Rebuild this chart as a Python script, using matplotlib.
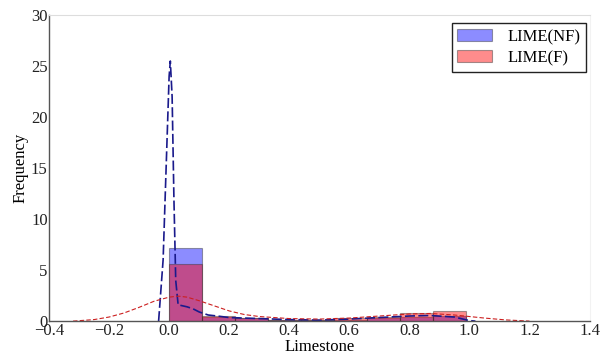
import matplotlib
matplotlib.use("Agg")
import matplotlib.pyplot as plt
import numpy as np

plt.rcParams['font.family'] = ['Liberation Serif', 'DejaVu Serif']

# Histogram bins (width 0.11 from 0.0 to 0.99)
bin_edges = [0.0, 0.11, 0.22, 0.33, 0.44, 0.55, 0.66, 0.77, 0.88, 0.99]
freq_nf = [7.2, 0.45, 0.3, 0.15, 0.1, 0.15, 0.3, 0.4, 0.55]
freq_f = [5.6, 0.5, 0.3, 0.15, 0.15, 0.3, 0.45, 0.8, 1.0]

# Density curves
kde_nf_x = [-0.035, -0.02, -0.01, 0.0, 0.004, 0.01, 0.016, 0.022, 0.03, 0.06,
            0.08, 0.1, 0.13, 0.16, 0.2, 0.3, 0.4, 0.5, 0.6, 0.7, 0.8, 0.87,
            0.95, 1.0, 1.02]
kde_nf_y = [0.0, 6.0, 15.0, 24.0, 25.5, 22.0, 12.0, 4.0, 1.6, 1.4,
            1.2, 0.9, 0.6, 0.5, 0.35, 0.25, 0.15, 0.1, 0.2, 0.35, 0.5, 0.55,
            0.4, 0.05, 0.0]
kde_f_x = [-0.32, -0.25, -0.2, -0.15, -0.1, -0.05, 0.0, 0.03, 0.06, 0.1,
           0.15, 0.2, 0.25, 0.3, 0.4, 0.5, 0.6, 0.7, 0.8, 0.87, 0.95,
           1.05, 1.12, 1.2]
kde_f_y = [0.0, 0.15, 0.4, 0.8, 1.35, 1.95, 2.35, 2.45, 2.35, 2.0,
           1.5, 1.0, 0.65, 0.45, 0.25, 0.2, 0.3, 0.5, 0.7, 0.75, 0.6,
           0.3, 0.12, 0.0]

fig = plt.figure(figsize=(6.08, 3.6), dpi=100)
ax = fig.add_axes([0.0806, 0.108, 0.889, 0.85])

widths = np.diff(bin_edges)
lefts = np.array(bin_edges[:-1])
ax.bar(lefts, freq_nf, width=widths, align='edge', color='#0000ff', alpha=0.45,
       edgecolor='#333333', linewidth=0.8, label='LIME(NF)')
ax.bar(lefts, freq_f, width=widths, align='edge', color='#ff0000', alpha=0.45,
       edgecolor='#333333', linewidth=0.8, label='LIME(F)')

ax.plot(kde_nf_x, kde_nf_y, color='#1a1a8c', linestyle=(0, (6, 2)), linewidth=1.2)
ax.plot(kde_f_x, kde_f_y, color='#cc2020', linestyle=(0, (4, 2)), linewidth=0.8)

ax.set_xlim(-0.4, 1.4)
ax.set_ylim(0, 30)
ax.set_xticks([-0.4, -0.2, 0.0, 0.2, 0.4, 0.6, 0.8, 1.0, 1.2, 1.4])
ax.set_yticks([0, 5, 10, 15, 20, 25, 30])
ax.tick_params(axis='both', length=0, labelsize=12, pad=1, colors='#222222')
ax.set_xlabel('Limestone', fontsize=12, labelpad=0)
ax.set_ylabel('Frequency', fontsize=12, labelpad=2)

for s in ['left', 'bottom']:
    ax.spines[s].set_color('#555555')
    ax.spines[s].set_linewidth(1.0)
ax.spines['top'].set_color('#dddddd')
ax.spines['right'].set_color('#f2f2f2')

leg = ax.legend(loc='upper right', fontsize=12, fancybox=False, framealpha=1,
                edgecolor='#222222', handlelength=2.1, handleheight=0.75,
                borderpad=0.35, labelspacing=0.3, handletextpad=0.9,
                borderaxespad=0, bbox_to_anchor=(0.994, 0.974))
leg.get_frame().set_linewidth(1.0)

fig.savefig('out.png', dpi=100)
